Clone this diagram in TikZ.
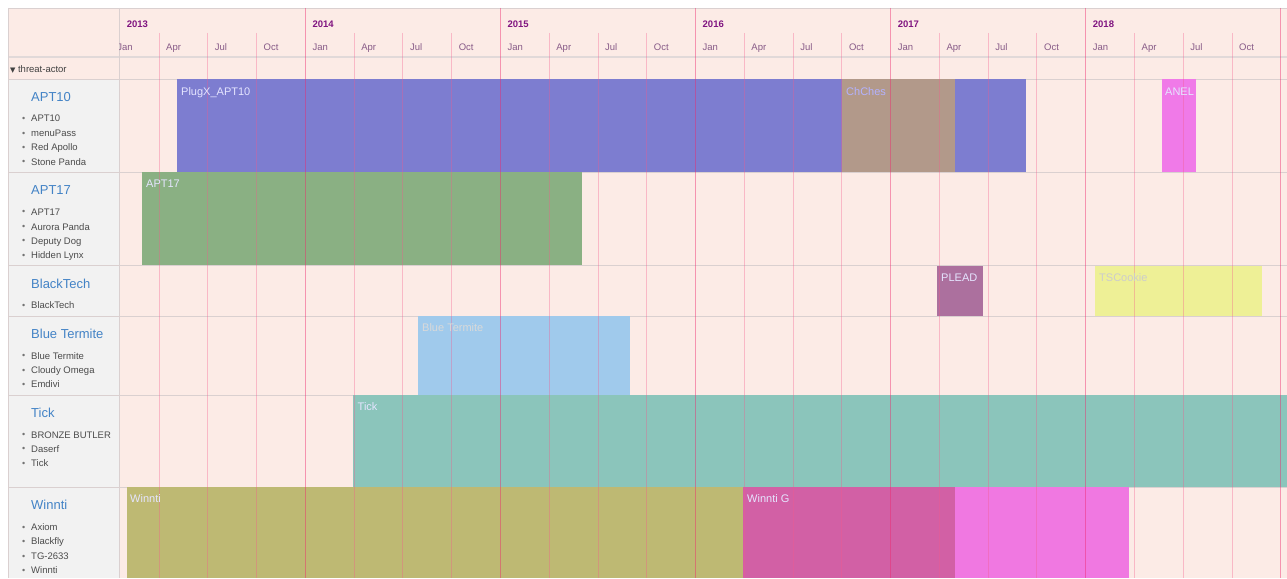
\documentclass[tikz,border=0pt]{standalone}
\usepackage{fontspec}
\setmainfont{Liberation Sans}
\newfontfamily\dejavu{DejaVu Sans}
\definecolor{chartbg}{RGB}{252,235,230}
\definecolor{colbg}{RGB}{242,242,242}
\definecolor{rowline}{RGB}{218,208,208}
\definecolor{gridq}{RGB}{245,90,140}
\definecolor{gridy}{RGB}{238,40,110}
\definecolor{yearc}{RGB}{128,20,128}
\definecolor{monthc}{RGB}{135,90,135}
\definecolor{namec}{RGB}{67,131,198}
\definecolor{aliasc}{RGB}{75,75,75}
\definecolor{cPlugX}{RGB}{125,125,208}
\definecolor{cChChes}{RGB}{178,153,138}
\definecolor{cAnel}{RGB}{240,122,232}
\definecolor{cApt}{RGB}{138,176,131}
\definecolor{cPlead}{RGB}{172,112,158}
\definecolor{cTS}{RGB}{238,240,150}
\definecolor{cBT}{RGB}{160,202,236}
\definecolor{cTick}{RGB}{139,197,187}
\definecolor{cWinnti}{RGB}{190,185,115}
\definecolor{cWinntiG}{RGB}{210,96,165}
\definecolor{cPink}{RGB}{240,120,225}
\tikzset{
  actor/.style={anchor=base west, inner sep=0pt, text=namec, font=\fontsize{13}{15}\selectfont},
  alias/.style={anchor=base west, inner sep=0pt, text=aliasc, font=\fontsize{9.5}{11}\selectfont},
  yearlbl/.style={anchor=base west, inner sep=0pt, text=yearc, font=\fontsize{9.5}{11}\selectfont\bfseries},
  monthlbl/.style={anchor=base west, inner sep=0pt, text=monthc, font=\fontsize{9.5}{11}\selectfont},
  barlbl/.style={anchor=base west, inner sep=0pt, text=white!90!blue, font=\fontsize{11}{13}\selectfont},
  bar/.style={draw=none},
  rowsep/.style={draw=rowline, line width=0.8pt},
}
\newcommand{\bul}{\makebox[9pt][l]{\raisebox{0.3pt}{\textcolor{black!55}{\fontsize{9}{9}\selectfont\textbullet}}}}
\begin{document}
\begin{tikzpicture}[x=1pt,y=-1pt]
\useasboundingbox (0,0) rectangle (1287,578);
\fill[white] (0,0) rectangle (1287,578);
% backgrounds
\fill[chartbg] (8,8) rectangle (1287,578);
\fill[colbg] (8,79) rectangle (119,578);
% row separators
\draw[draw=rowline!80!white, line width=2.5pt] (8,57) -- (1287,57);
\foreach \yy in {79,172,265,316,395,487} {\draw[rowsep] (8,\yy) -- (1287,\yy);}
\draw[rowsep] (8,8) -- (1287,8);
\draw[rowsep] (8,8) -- (8,578);
\draw[rowsep] (119,8) -- (119,578);
% bars
\fill[bar, cPlugX] (177,79) rectangle (1025.7,172);
\fill[bar, cChChes] (842,79) rectangle (955,172);
\fill[bar, cAnel] (1162,79) rectangle (1196,172);
\fill[bar, cApt] (142,172) rectangle (581.5,265);
\fill[bar, cPlead] (937,265.5) rectangle (983,316);
\fill[bar, cTS] (1095,265.5) rectangle (1262,316);
\fill[bar, cBT] (418,316) rectangle (630,395);
\fill[bar, cTick] (353,395) rectangle (1287,487);
\fill[bar, cWinnti] (126.5,487) rectangle (743,578);
\fill[bar, cWinntiG] (743,487) rectangle (955,578);
\fill[bar, cPink] (955,487) rectangle (1129,578);
% grid and month labels
\begin{scope}
\clip (119.5,8) rectangle (1287,578);
\foreach \q in {0,...,24} {
  \pgfmathsetmacro\xx{110.2+48.775*\q}
  \pgfmathtruncatemacro\r{mod(\q,4)}
  \ifnum\r=0
    \draw[gridy, line width=1.3pt, opacity=0.45] (\xx,8) -- (\xx,578);
  \else
    \draw[gridq, line width=0.9pt, opacity=0.35] (\xx,33) -- (\xx,578);
  \fi
}
\foreach \yr in {0,...,5} {
  \foreach \m/\mn in {0/Jan,1/Apr,2/Jul,3/Oct} {
    \pgfmathsetmacro\xx{110.2+195.1*\yr+48.775*\m+7}
    \node[monthlbl] (m\yr\m) at (\xx,50.7) {\mn};
  }
}
\end{scope}
% years
\node[yearlbl] (y2013) at (126.7,27.4) {2013};
\node[yearlbl] (y2014) at (312.3,27.4) {2014};
\node[yearlbl] (y2015) at (507.4,27.4) {2015};
\node[yearlbl] (y2016) at (702.5,27.4) {2016};
\node[yearlbl] (y2017) at (897.6,27.4) {2017};
\node[yearlbl] (y2018) at (1092.7,27.4) {2018};
% threat-actor
\node[alias, text=black!75] (ta) at (10,72.4) {{\dejavu\fontsize{7}{8}\selectfont ▼}\hspace{2.5pt}threat-actor};
% bar labels
\node[barlbl] (lPlugX) at (181,95) {PlugX\_APT10};
\node[barlbl, text=white!70!blue] (lChChes) at (846,95) {ChChes};
\node[barlbl] (lAnel) at (1165,95) {ANEL};
\node[barlbl] (lApt17) at (146,187.5) {APT17};
\node[barlbl] (lPlead) at (941,281) {PLEAD};
\node[barlbl, text=white!80!black] (lTS) at (1099,281) {TSCookie};
\node[barlbl, text=white!85!black] (lBT) at (422,331.5) {Blue Termite};
\node[barlbl] (lTick) at (357.5,410.5) {Tick};
\node[barlbl] (lWinnti) at (130,502.5) {Winnti};
\node[barlbl] (lWinntiG) at (747,502.5) {Winnti G};
% actors
\node[actor] (nAPT10) at (31,101.4) {APT10};
\node[alias] (a1) at (22,121.7) {\bul APT10};
\node[alias] (a2) at (22,136.7) {\bul menuPass};
\node[alias] (a3) at (22,150.7) {\bul Red Apollo};
\node[alias] (a4) at (22,165.2) {\bul Stone Panda};
\node[actor] (nAPT17) at (31,194.7) {APT17};
\node[alias] (b1) at (22,215.1) {\bul APT17};
\node[alias] (b2) at (22,230.1) {\bul Aurora Panda};
\node[alias] (b3) at (22,244.1) {\bul Deputy Dog};
\node[alias] (b4) at (22,258.7) {\bul Hidden Lynx};
\node[actor] (nBT) at (31,288) {BlackTech};
\node[alias] (c1) at (22,308.4) {\bul BlackTech};
\node[actor] (nBlue) at (31,338.7) {Blue Termite};
\node[alias] (d1) at (22,359.1) {\bul Blue Termite};
\node[alias] (d2) at (22,373.4) {\bul Cloudy Omega};
\node[alias] (d3) at (22,387.7) {\bul Emdivi};
\node[actor] (nTick) at (31,417.4) {Tick};
\node[alias] (e1) at (22,438.1) {\bul BRONZE BUTLER};
\node[alias] (e2) at (22,452.1) {\bul Daserf};
\node[alias] (e3) at (22,466.7) {\bul Tick};
\node[actor] (nWinnti) at (31,509.7) {Winnti};
\node[alias] (f1) at (22,530.7) {\bul Axiom};
\node[alias] (f2) at (22,544.7) {\bul Blackfly};
\node[alias] (f3) at (22,559.4) {\bul TG-2633};
\node[alias] (f4) at (22,573.4) {\bul Winnti};
\end{tikzpicture}
\end{document}
